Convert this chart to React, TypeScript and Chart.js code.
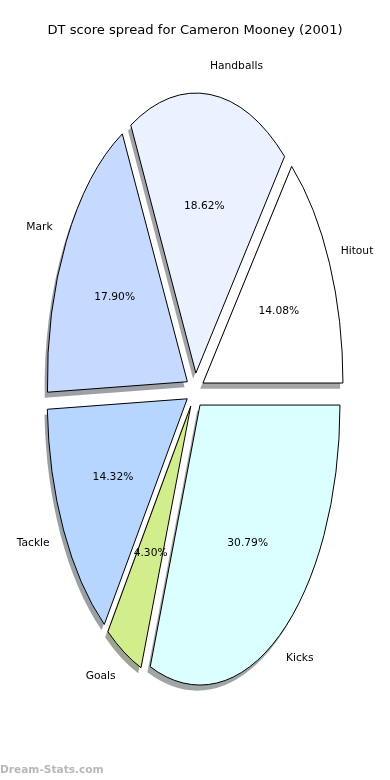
import React, { useEffect, useRef } from "react";
import { Chart, registerables } from "chart.js";

Chart.register(...registerables);

// Data (drawn clockwise from 3 o'clock, so order is reversed w.r.t. the matplotlib CCW order)
const categories = ["Kicks", "Goals", "Tackle", "Mark", "Handballs", "Hitout"];
const shares = [30.79, 4.3, 14.32, 17.9, 18.62, 14.08];
const sliceColors = ["#dbffff", "#d2ed8c", "#b6d6ff", "#c6d9ff", "#eaf1ff", "#ffffff"];
const shadowColors = [
  "rgba(66,77,77,0.5)",
  "rgba(63,71,42,0.5)",
  "rgba(55,64,77,0.5)",
  "rgba(59,65,77,0.5)",
  "rgba(70,72,77,0.5)",
  "rgba(77,77,77,0.5)",
];
const titleText = "DT score spread for Cameron Mooney (2001)";
const watermark = "Dream-Stats.com";

const STRETCH = 2;
const EXPLODE = 8.8;
const SHADOW_DX = -2.8;
const SHADOW_DY = 5.6;
const LABEL_FONT = '10.7px "DejaVu Sans"';

function arcGeom(arc: any) {
  const p = arc.getProps(["x", "y", "startAngle", "endAngle", "outerRadius"], true);
  const mid = (p.startAngle + p.endAngle) / 2;
  return { ...p, mid };
}

const ellipsePiePlugin = {
  id: "ellipsePie",
  beforeDatasetDraw(chart: any, args: any) {
    const ctx: CanvasRenderingContext2D = chart.ctx;
    const arcs = args.meta.data;
    const dpr = chart.currentDevicePixelRatio || 1;
    // shadows first
    arcs.forEach((arc: any, i: number) => {
      const g = arcGeom(arc);
      ctx.save();
      ctx.translate(SHADOW_DX, SHADOW_DY);
      ctx.translate(g.x, g.y);
      ctx.scale(1, STRETCH);
      ctx.translate(Math.cos(g.mid) * EXPLODE, Math.sin(g.mid) * EXPLODE);
      ctx.beginPath();
      ctx.moveTo(0, 0);
      ctx.arc(0, 0, g.outerRadius, g.startAngle, g.endAngle);
      ctx.closePath();
      ctx.fillStyle = shadowColors[i];
      ctx.fill();
      ctx.restore();
    });
    // wedges, drawn by the library's arc elements in a stretched, exploded frame
    arcs.forEach((arc: any) => {
      const g = arcGeom(arc);
      ctx.save();
      ctx.translate(g.x, g.y);
      ctx.scale(1, STRETCH);
      ctx.translate(Math.cos(g.mid) * EXPLODE, Math.sin(g.mid) * EXPLODE);
      ctx.translate(-g.x, -g.y);
      const orig = CanvasRenderingContext2D.prototype.stroke;
      (ctx as any).stroke = function (...a: any[]) {
        this.save();
        this.setTransform(dpr, 0, 0, dpr, 0, 0);
        orig.apply(this, a as any);
        this.restore();
      };
      arc.draw(ctx);
      delete (ctx as any).stroke;
      ctx.restore();
    });
    return false;
  },
  afterDraw(chart: any) {
    const ctx: CanvasRenderingContext2D = chart.ctx;
    const meta = chart.getDatasetMeta(0);
    const total = shares.reduce((a, b) => a + b, 0);
    ctx.save();
    ctx.font = LABEL_FONT;
    ctx.fillStyle = "#000";
    ctx.textBaseline = "middle";
    meta.data.forEach((arc: any, i: number) => {
      const g = arcGeom(arc);
      const c = Math.cos(g.mid);
      const s = Math.sin(g.mid);
      const rl = EXPLODE + 1.1 * g.outerRadius;
      const rp = EXPLODE + 0.6 * g.outerRadius;
      ctx.textAlign = c > 0 ? "left" : "right";
      ctx.fillText(categories[i], g.x + rl * c - 1.5, g.y + STRETCH * rl * s);
      ctx.textAlign = "center";
      const pct = ((shares[i] / total) * 100).toFixed(2) + "%";
      ctx.fillText(pct, g.x + rp * c, g.y + STRETCH * rp * s);
    });
    ctx.font = 'bold 10.6px "DejaVu Sans"';
    ctx.fillStyle = "#b8b8b8";
    ctx.textAlign = "left";
    ctx.fillText(watermark, 0, 770);
    ctx.restore();
  },
};

export default function App() {
  const ref = useRef<HTMLCanvasElement | null>(null);
  useEffect(() => {
    if (!ref.current) return;
    const chart = new Chart(ref.current, {
      type: "pie",
      data: {
        labels: categories,
        datasets: [
          {
            data: shares,
            backgroundColor: sliceColors,
            borderColor: "#000000",
            borderWidth: 1,
            borderJoinStyle: "miter",
            radius: 140,
          } as any,
        ],
      },
      options: {
        animation: false,
        responsive: false,
        devicePixelRatio: 1,
        events: [],
        rotation: 90,
        layout: { padding: { top: 0, bottom: 37.4, left: 0, right: 0 } },
        plugins: {
          legend: { display: false },
          tooltip: { enabled: false },
          title: {
            display: true,
            text: titleText,
            color: "#000",
            font: { family: "DejaVu Sans", size: 13.1, weight: "normal" },
            padding: { top: 22.8, bottom: 0 },
          },
        },
      } as any,
      plugins: [ellipsePiePlugin],
    });
    return () => chart.destroy();
  }, []);
  return (
    <div style={{ position: "fixed", left: 0, top: 0, width: 390, height: 780, background: "#fff" }}>
      <canvas ref={ref} width={390} height={780} style={{ display: "block" }} />
    </div>
  );
}
